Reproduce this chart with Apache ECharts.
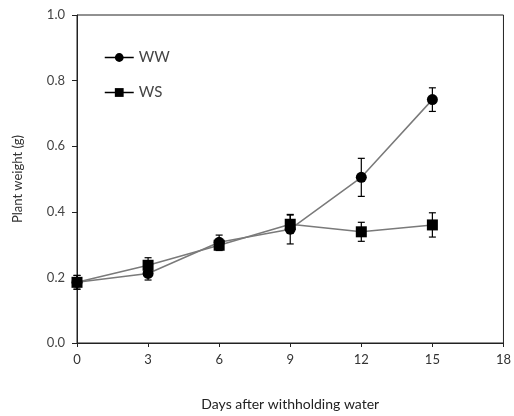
<!DOCTYPE html>
<html>
<head>
<meta charset="utf-8">
<script src="https://cdn.jsdelivr.net/npm/echarts@6/dist/echarts.min.js"></script>
<style>html,body{margin:0;padding:0;background:#fff;}#c{width:514px;height:416px;}</style>
</head>
<body>
<div id="c"></div>
<script>
var days = [0, 3, 6, 9, 12, 15];
var wwMean = [0.185, 0.212, 0.307, 0.347, 0.505, 0.742];
var wwErr  = [0.021, 0.020, 0.022, 0.045, 0.058, 0.036];
var wsMean = [0.185, 0.237, 0.298, 0.362, 0.339, 0.360];
var wsErr  = [0.021, 0.023, 0.016, 0.028, 0.029, 0.037];
var xTicks = [0, 3, 6, 9, 12, 15, 18];
var yTicks = [0.0, 0.2, 0.4, 0.6, 0.8, 1.0];

var FONT = 'Lato, "Open Sans", sans-serif';

function pts(mean) { return days.map(function (d, i) { return [d, mean[i]]; }); }
function errPts(mean, err) { return days.map(function (d, i) { return [d, mean[i] - err[i], mean[i] + err[i]]; }); }

function errRender(params, api) {
  var x = api.value(0);
  var lo = api.coord([x, api.value(1)]);
  var hi = api.coord([x, api.value(2)]);
  var hw = 3.5;
  var st = { stroke: '#000', lineWidth: 1.2 };
  return {
    type: 'group',
    children: [
      { type: 'line', shape: { x1: lo[0], y1: lo[1], x2: hi[0], y2: hi[1] }, style: st },
      { type: 'line', shape: { x1: lo[0] - hw, y1: lo[1], x2: lo[0] + hw, y2: lo[1] }, style: st },
      { type: 'line', shape: { x1: hi[0] - hw, y1: hi[1], x2: hi[0] + hw, y2: hi[1] }, style: st }
    ]
  };
}

var chart = echarts.init(document.getElementById('c'), null, { renderer: 'canvas' });
chart.setOption({
  animation: false,
  backgroundColor: '#fff',
  grid: { left: 77, top: 15, right: 8, bottom: 70, show: true, borderColor: '#222', borderWidth: 1, containLabel: false },
  legend: {
    orient: 'vertical',
    left: 99, top: 45,
    itemWidth: 29, itemHeight: 11, itemGap: 20,
    textStyle: { fontFamily: FONT, fontSize: 15, color: '#444' },
    lineStyle: { color: '#000', width: 1.5 },
    data: ['WW', 'WS']
  },
  xAxis: {
    type: 'value', min: 0, max: 18, interval: 3,
    axisLine: { show: true, lineStyle: { color: '#222', width: 1 } },
    axisTick: { show: true, length: 4, lineStyle: { color: '#222' } },
    splitLine: { show: false },
    axisLabel: { fontFamily: FONT, fontSize: 13, color: '#333', margin: 10 },
    name: 'Days after withholding water',
    nameLocation: 'middle', nameGap: 54,
    nameTextStyle: { fontFamily: FONT, fontSize: 14, color: '#222' }
  },
  yAxis: {
    type: 'value', min: 0, max: 1, interval: 0.2,
    axisLine: { show: true, lineStyle: { color: '#222', width: 1 } },
    axisTick: { show: true, length: 5, lineStyle: { color: '#222' } },
    splitLine: { show: false },
    axisLabel: { fontFamily: FONT, fontSize: 13, color: '#444', margin: 12,
      formatter: function (v) { return v.toFixed(1); } },
    name: 'Plant weight (g)',
    nameLocation: 'middle', nameGap: 53,
    nameTextStyle: { fontFamily: FONT, fontSize: 13, color: '#333' }
  },
  series: [
    {
      name: 'WW', type: 'line', data: pts(wwMean),
      symbol: 'circle', symbolSize: 11,
      itemStyle: { color: '#000' },
      lineStyle: { color: '#7a7a7a', width: 1.5 },
      z: 3
    },
    {
      name: 'WS', type: 'line', data: pts(wsMean),
      symbol: 'rect', symbolSize: 11,
      itemStyle: { color: '#000' },
      lineStyle: { color: '#7a7a7a', width: 1.5 },
      z: 3
    },
    { type: 'custom', name: 'WWerr', renderItem: errRender, data: errPts(wwMean, wwErr), encode: { x: 0, y: [1, 2] }, z: 4, silent: true },
    { type: 'custom', name: 'WSerr', renderItem: errRender, data: errPts(wsMean, wsErr), encode: { x: 0, y: [1, 2] }, z: 4, silent: true }
  ]
});
</script>
</body>
</html>
